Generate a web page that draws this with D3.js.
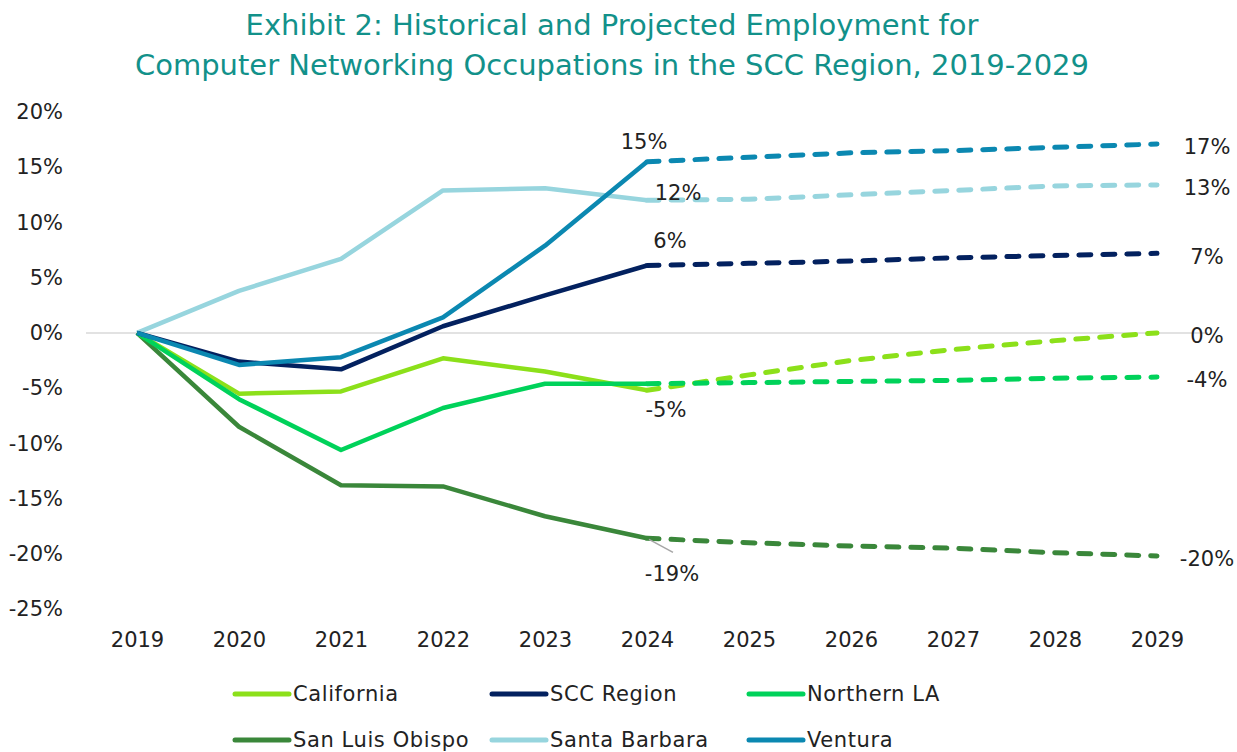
<!DOCTYPE html>
<html>
<head>
<meta charset="utf-8">
<script src="https://cdn.jsdelivr.net/npm/d3@7"></script>
<style>
  body { margin: 0; background: #fff; }
  svg text { font-family: "DejaVu Sans", "Open Sans", sans-serif; }
</style>
</head>
<body>
<svg id="chart" width="1237" height="752"></svg>
<script>
// data
var years = ["2019","2020","2021","2022","2023","2024","2025","2026","2027","2028","2029"];
var seriesNames = ["California","SCC Region","Northern LA","San Luis Obispo","Santa Barbara","Ventura"];
var seriesColors = ["#8ce01a","#03215f","#00d25a","#3a873a","#97d5de","#0b88b1"];
// 2019-2024 actual, 2024-2029 projected (percent change since 2019)
var california   = [0, -5.5, -5.3, -2.3, -3.5, -5.2, -3.8, -2.5, -1.5, -0.7, 0.0];
var sccRegion    = [0, -2.6, -3.3,  0.6,  3.4,  6.1,  6.3,  6.5,  6.8,  7.0,  7.2];
var northernLA   = [0, -6.0,-10.6, -6.8, -4.6, -4.6, -4.5, -4.4, -4.3, -4.1, -4.0];
var sanLuis      = [0, -8.5,-13.8,-13.9,-16.6,-18.6,-19.0,-19.3,-19.5,-19.9,-20.2];
var santaBarbara = [0,  3.8,  6.7, 12.9, 13.1, 12.0, 12.1, 12.5, 12.9, 13.3, 13.4];
var ventura      = [0, -2.9, -2.2,  1.4,  7.9, 15.5, 15.9, 16.3, 16.5, 16.8, 17.1];
var allSeries = [california, sccRegion, northernLA, sanLuis, santaBarbara, ventura];
var yTicks = [20, 15, 10, 5, 0, -5, -10, -15, -20, -25];
var lastActual = 5; // index of 2024

// labels: [series index, year index, text, dx, dy]
var pointLabels = [
  [5, 5, "15%", -3, -20],
  [4, 5, "12%", 31, -8],
  [1, 5, "6%", 23, -25],
  [0, 5, "-5%", 19, 19],
  [3, 5, "-19%", 25, 35]
];
var endLabels = [
  [5, "17%"], [4, "13%"], [1, "7%"], [0, "0%"], [2, "-4%"], [3, "-20%"]
];

var svg = d3.select("#chart");

var x = d3.scalePoint().domain(years).range([137, 1157]);
var y = d3.scaleLinear().domain([-25, 20]).range([609, 112]);

// title
var title = svg.append("text")
  .attr("text-anchor", "middle")
  .style("font-size", "29px")
  .style("fill", "#12918a");
title.append("tspan").attr("x", 612).attr("y", 35).text("Exhibit 2: Historical and Projected Employment for");
title.append("tspan").attr("x", 612).attr("y", 75).text("Computer Networking Occupations in the SCC Region, 2019-2029");

// zero line
svg.append("line")
  .attr("x1", 86).attr("x2", 1208)
  .attr("y1", y(0)).attr("y2", y(0))
  .style("stroke", "#d9d9d9").style("stroke-width", 1.5);

// y axis
var yAxis = svg.append("g")
  .attr("transform", "translate(63,0)")
  .call(d3.axisLeft(y).tickValues(yTicks).tickSize(0).tickPadding(0).tickFormat(d => d + "%"));
yAxis.select(".domain").remove();
yAxis.selectAll("text").style("font-size", "21px").style("fill", "#222");

// x axis
var xAxis = svg.append("g")
  .attr("transform", "translate(0,632)")
  .call(d3.axisBottom(x).tickSize(0).tickPadding(0));
xAxis.select(".domain").remove();
xAxis.selectAll("text").style("font-size", "21px").style("fill", "#222");

var line = d3.line()
  .x(d => x(d.year))
  .y(d => y(d.value));

function pts(vals, from, to) {
  var out = [];
  for (var i = from; i <= to; i++) out.push({year: years[i], value: vals[i]});
  return out;
}

// draw series (draw order similar to reference)
var drawOrder = [4, 3, 0, 2, 1, 5];
drawOrder.forEach(function(s) {
  svg.append("path")
    .datum(pts(allSeries[s], 0, lastActual))
    .attr("d", line)
    .style("fill", "none")
    .style("stroke", seriesColors[s])
    .style("stroke-width", 4.5)
    .style("stroke-linejoin", "round");
  svg.append("path")
    .datum(pts(allSeries[s], lastActual, years.length - 1))
    .attr("d", line)
    .style("fill", "none")
    .style("stroke", seriesColors[s])
    .style("stroke-width", 5)
    .style("stroke-linecap", "round")
    .style("stroke-dasharray", "12,12");
});

// leader line for -19%
svg.append("line")
  .attr("x1", x(years[lastActual]) + 2).attr("y1", y(sanLuis[lastActual]) + 1)
  .attr("x2", x(years[lastActual]) + 26).attr("y2", y(sanLuis[lastActual]) + 14)
  .style("stroke", "#a6a6a6").style("stroke-width", 1.5);

// data labels
pointLabels.forEach(function(l) {
  svg.append("text")
    .attr("x", x(years[l[1]]) + l[3])
    .attr("y", y(allSeries[l[0]][l[1]]) + l[4])
    .attr("text-anchor", "middle")
    .attr("dy", "0.35em")
    .style("font-size", "21px")
    .style("fill", "#222")
    .text(l[2]);
});
endLabels.forEach(function(l) {
  svg.append("text")
    .attr("x", x(years[years.length - 1]) + 50)
    .attr("y", y(allSeries[l[0]][years.length - 1]) + 3)
    .attr("text-anchor", "middle")
    .attr("dy", "0.35em")
    .style("font-size", "21px")
    .style("fill", "#222")
    .text(l[1]);
});

// legend
var legend = svg.selectAll(".legend")
  .data(seriesNames)
  .enter()
  .append("g")
  .attr("class", "legend")
  .attr("transform", function(d, i) {
    return "translate(" + (235 + (i % 3) * 257) + "," + (694 + Math.floor(i / 3) * 46) + ")";
  });
legend.append("line")
  .attr("x1", 0).attr("x2", 54)
  .style("stroke", (d, i) => seriesColors[i])
  .style("stroke-width", 5)
  .style("stroke-linecap", "round");
legend.append("text")
  .attr("x", 58)
  .attr("dy", "0.35em")
  .style("font-size", "21px")
  .style("letter-spacing", "0.6px")
  .style("fill", "#222")
  .text(d => d);
</script>
</body>
</html>
